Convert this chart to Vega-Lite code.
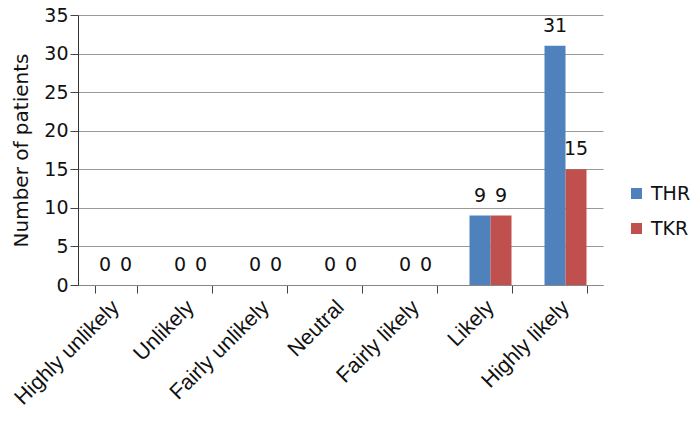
{
  "$schema": "https://vega.github.io/schema/vega-lite/v6.json",
  "width": 525,
  "height": 270,
  "autosize": {"type": "none"},
  "padding": {"left": 78, "top": 15, "right": 94, "bottom": 138},
  "background": "white",
  "data": {"values": [
    {"category": "Highly unlikely", "group": "THR", "value": 0},
    {"category": "Highly unlikely", "group": "TKR", "value": 0},
    {"category": "Unlikely", "group": "THR", "value": 0},
    {"category": "Unlikely", "group": "TKR", "value": 0},
    {"category": "Fairly unlikely", "group": "THR", "value": 0},
    {"category": "Fairly unlikely", "group": "TKR", "value": 0},
    {"category": "Neutral", "group": "THR", "value": 0},
    {"category": "Neutral", "group": "TKR", "value": 0},
    {"category": "Fairly likely", "group": "THR", "value": 0},
    {"category": "Fairly likely", "group": "TKR", "value": 0},
    {"category": "Likely", "group": "THR", "value": 9},
    {"category": "Likely", "group": "TKR", "value": 9},
    {"category": "Highly likely", "group": "THR", "value": 31},
    {"category": "Highly likely", "group": "TKR", "value": 15}
  ]},
  "encoding": {
    "x": {
      "field": "category", "type": "nominal", "sort": null,
      "scale": {"paddingInner": 0.44, "paddingOuter": 0.22},
      "axis": {
        "title": null, "labelAngle": -45, "labelAlign": "right", "labelBaseline": "middle",
        "labelFont": "Liberation Sans", "labelFontSize": 21.5, "labelColor": "#111",
        "tickBand": "extent", "tickSize": 8, "tickColor": "#444", "domainColor": "#888",
        "labelPadding": 11, "labelOffset": 0, "labelLimit": 300
      }
    },
    "xOffset": {"field": "group", "type": "nominal", "scale": {"paddingInner": 0}},
    "y": {
      "field": "value", "type": "quantitative",
      "scale": {"domain": [0, 35]},
      "axis": {
        "title": "Number of patients", "titleFont": "DejaVu Sans", "titleFontSize": 20, "titleFontWeight": "normal", "titleColor": "#111",
        "values": [0, 5, 10, 15, 20, 25, 30, 35],
        "labelFont": "DejaVu Sans", "labelFontSize": 19, "labelColor": "#111",
        "gridColor": "#999", "tickColor": "#444", "domainColor": "#333", "tickSize": 8, "labelPadding": 2,
        "titlePadding": 12
      }
    }
  },
  "layer": [
    {
      "mark": {"type": "bar"},
      "encoding": {
        "color": {
          "field": "group", "type": "nominal",
          "scale": {"domain": ["THR", "TKR"], "range": ["#4F81BD", "#C0504D"]},
          "legend": {
            "title": null, "orient": "none", "legendX": 549, "legendY": 169,
            "symbolType": "square", "symbolSize": 121, "labelFont": "DejaVu Sans", "labelFontSize": 19,
            "labelColor": "#111", "rowPadding": 15, "symbolOpacity": 1, "labelOffset": 5
          }
        }
      }
    },
    {
      "mark": {"type": "text", "baseline": "bottom", "dy": -10, "font": "DejaVu Sans", "fontSize": 19, "color": "#111"},
      "encoding": {"text": {"field": "value", "type": "quantitative"}}
    }
  ],
  "config": {"view": {"stroke": null}}
}
